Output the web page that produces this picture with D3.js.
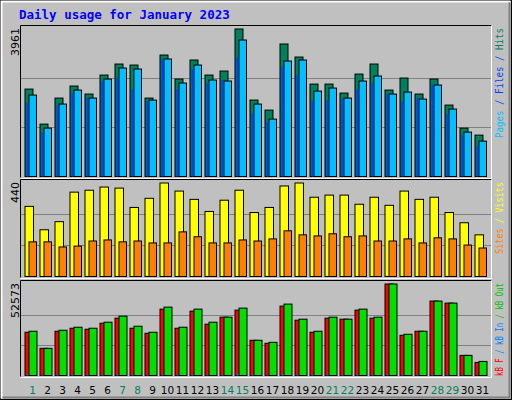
<!DOCTYPE html>
<html><head><meta charset="utf-8">
<script src="https://cdn.jsdelivr.net/npm/d3@7"></script>
<style>body{margin:0;background:#fff}</style>
</head><body>
<svg id="chart" width="512" height="400"></svg>
<script>
// data
var days = d3.range(1, 32);
var weekend = [1, 7, 8, 14, 15, 21, 22, 28, 29];
var hits  = [2348,1407,2106,2429,2214,2724,3020,2993,2106,3262,2617,3128,2724,2832,3961,2052,1783,3558,3208,2482,2482,2240,2751,3020,2321,2644,2214,2617,1918,1299,1111];
var files = [2187,1299,1945,2321,2106,2617,2913,2886,2052,3155,2509,2993,2590,2563,3665,1945,1541,3101,3128,2294,2375,2106,2563,2698,2214,2267,2079,2456,1810,1192,950];
var pages = [1972,1192,1891,2240,2106,2563,2644,2348,2025,3155,2348,2886,2509,2590,3208,1703,1461,2940,2724,2025,2052,2079,2348,2509,2214,2025,2106,2456,1676,1111,816];
var visits = [330,220,258,397,406,421,416,325,368,440,402,363,306,359,406,301,325,426,440,373,383,383,340,373,335,402,363,373,301,253,196];
var sites  = [163,163,139,143,167,172,163,167,158,158,210,187,158,158,172,167,177,215,196,191,201,187,191,167,167,177,158,182,177,148,134];
var kbF   = [24845,15600,25423,27157,26579,30046,32935,27157,24268,38135,27157,36979,29468,33512,37557,20223,18490,39868,31779,24845,32935,32357,37557,32935,52573,23112,25423,42757,41602,11556,7511];
var kbIn  = [600,300,500,500,500,500,600,500,400,600,500,500,500,500,900,500,300,900,500,500,600,500,500,500,600,500,500,500,500,300,200];
var kbOut = [25423,15600,26000,27734,27157,30623,34090,28312,24845,39290,27734,38135,30623,33512,38713,20223,19067,41024,32357,25423,33512,32357,38135,33512,52573,23690,25423,42757,41602,11556,8089];

var svg = d3.select("#chart");
var font = "DejaVu Sans";
var mono = "DejaVu Sans Mono";

// background + bevel
svg.append("rect").attr("x",0).attr("y",0).attr("width",512).attr("height",400).attr("fill","#c0c0c0");
svg.append("rect").attr("x",0.5).attr("y",0.5).attr("width",511).attr("height",399).attr("fill","none").attr("stroke","#000");
svg.append("path").attr("d","M1.5,398.5V1.5H510.5").attr("fill","none").attr("stroke","#fff").attr("stroke-width",2);
svg.append("path").attr("d","M2.5,397.5H509.5V2.5").attr("fill","none").attr("stroke","#808080").attr("stroke-width",2);

svg.append("text").attr("x",19).attr("y",19).attr("fill","#0000ff")
  .attr("font-family",mono).attr("font-weight","bold").attr("font-size",12.5)
  .text("Daily usage for January 2023");

var x = d3.scaleBand().domain(days).range([25, 490]);

var panels = [
  {top:25, bottom:177, max:3961, label:"3961", legendLen:110,
   series:[{v:hits,c:"#00805c",dx:0,w:8},{v:files,c:"#00c0ff",dx:4,w:7.5},{v:pages,c:"#0040ff",dx:1.5,w:2,nostroke:true}],
   legend:[["Pages","#00c0ff"],[" / ","#0040ff"],["Files","#0040ff"],[" / ","#0040ff"],["Hits","#00805c"]]},
  {top:179, bottom:277, max:440, label:"440", legendLen:72,
   series:[{v:visits,c:"#ffff00",dx:0,w:8.5},{v:sites,c:"#ff8000",dx:4,w:7.5}],
   legend:[["Sites","#ff8000"],[" / ","#ffff00"],["Visits","#ffff00"]]},
  {top:280, bottom:376, max:52573, label:"52573", legendLen:93,
   series:[{v:kbF,c:"#ff0000",dx:0,w:8},{v:kbOut,c:"#00e000",dx:4,w:8},{v:kbIn,c:"#0080ff",dx:1.5,w:2,nostroke:true}],
   legend:[["kB F","#ff0000"],[" / ","#0080ff"],["kB In","#0080ff"],[" / ","#00c000"],["kB Out","#00c000"]]}
];

panels.forEach(function(p){
  var base = p.bottom - 0.5;
  var y = d3.scaleLinear().domain([0, p.max]).range([base, p.top + 4]);
  // frame
  svg.append("path").attr("d","M20.5,"+(p.bottom+0.5)+"V"+(p.top+0.5)+"H491.5")
    .attr("fill","none").attr("stroke","#000");
  svg.append("path").attr("d","M20.5,"+(p.bottom+1.5)+"H491.5V"+(p.top+0.5))
    .attr("fill","none").attr("stroke","#fff");
  // grid
  [1/3, 2/3].forEach(function(f){
    svg.append("line").attr("x1",21).attr("x2",491)
      .attr("y1",Math.round(y(p.max*f))+0.5).attr("y2",Math.round(y(p.max*f))+0.5)
      .attr("stroke","#808080");
  });
  p.series.forEach(function(s){
    svg.append("g").selectAll("rect").data(days).join("rect")
      .attr("x", function(d){ return x(d) + s.dx; })
      .attr("y", function(d,i){ return y(s.v[i]); })
      .attr("width", s.w)
      .attr("height", function(d,i){ return base - y(s.v[i]); })
      .attr("fill", s.c)
      .attr("stroke", s.nostroke ? "none" : "#000");
  });
  svg.append("text").attr("transform","translate(19,"+(p.top+3)+") rotate(-90)")
    .attr("text-anchor","end").attr("font-family",font).attr("font-size",11).attr("fill","#000")
    .text(p.label);
  var t = svg.append("text").attr("transform","translate(503,"+(p.top+3)+") rotate(-90)")
    .attr("text-anchor","end").attr("font-family",mono).attr("font-size",10.5)
    .attr("textLength",p.legendLen).attr("lengthAdjust","spacingAndGlyphs");
  p.legend.forEach(function(l){ t.append("tspan").attr("fill",l[1]).text(l[0]); });
});

// day labels
svg.append("g").selectAll("text").data(days).join("text")
  .attr("x", function(d){ return x(d) + 7.5; })
  .attr("y", 394)
  .attr("text-anchor","middle")
  .attr("font-family",font).attr("font-size",10.5)
  .attr("fill", function(d){ return weekend.indexOf(d) >= 0 ? "#00805c" : "#000"; })
  .text(function(d){ return d; });
</script>
</body></html>
